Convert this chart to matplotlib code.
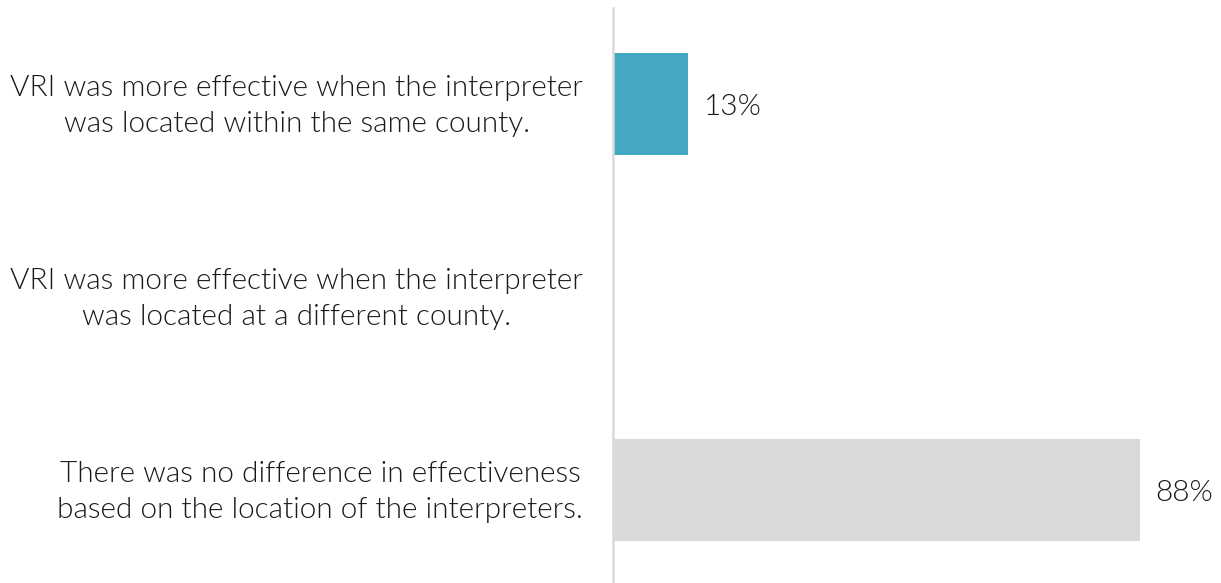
import matplotlib.pyplot as plt
import matplotlib.transforms as mtransforms

categories = [
    "VRI was more effective when the interpreter\nwas located within the same county.",
    "VRI was more effective when the interpreter\nwas located at a different county.",
    "There was no difference in effectiveness\nbased on the location of the interpreters.",
]
values = [12.5, 0, 87.5]
value_labels = ["13%", "", "88%"]
colors = ["#45A9C4", "#45A9C4", "#D9D9D9"]

plt.rcParams['font.family'] = ['Lato', 'DejaVu Sans']

fig = plt.figure(figsize=(12.21, 5.83), dpi=100)
ax = fig.add_axes([613 / 1221, 0, 602 / 1221, 575 / 583])

pos = list(range(len(categories)))
bars = ax.barh(pos, values, height=0.53, color=colors)

for b, lab in zip(bars, value_labels):
    if lab:
        ax.annotate(lab, (b.get_width(), b.get_y() + b.get_height() / 2),
                    xytext=(11.5, -2), textcoords="offset points",
                    ha="left", va="center", fontsize=21.5, fontweight=300,
                    color="#1a1a1a")

ax.set_xlim(0, 100)
ax.set_ylim(2.482, -0.497)
ax.set_yticks(pos)
ax.set_yticklabels(categories, fontsize=21.4, fontweight=300, color="#1a1a1a",
                   multialignment="center", linespacing=1.45)
ax.tick_params(axis="y", length=0, pad=21.6)
ax.set_xticks([])

# nudge the category labels up a little
shift = mtransforms.ScaledTranslation(0, 0.05, fig.dpi_scale_trans)
for t in ax.get_yticklabels():
    t.set_transform(t.get_transform() + shift)

for s in ["top", "right", "bottom"]:
    ax.spines[s].set_visible(False)
ax.spines["left"].set_color("#D9D9D9")
ax.spines["left"].set_linewidth(1.8)

fig.savefig("out.png", dpi=100)
